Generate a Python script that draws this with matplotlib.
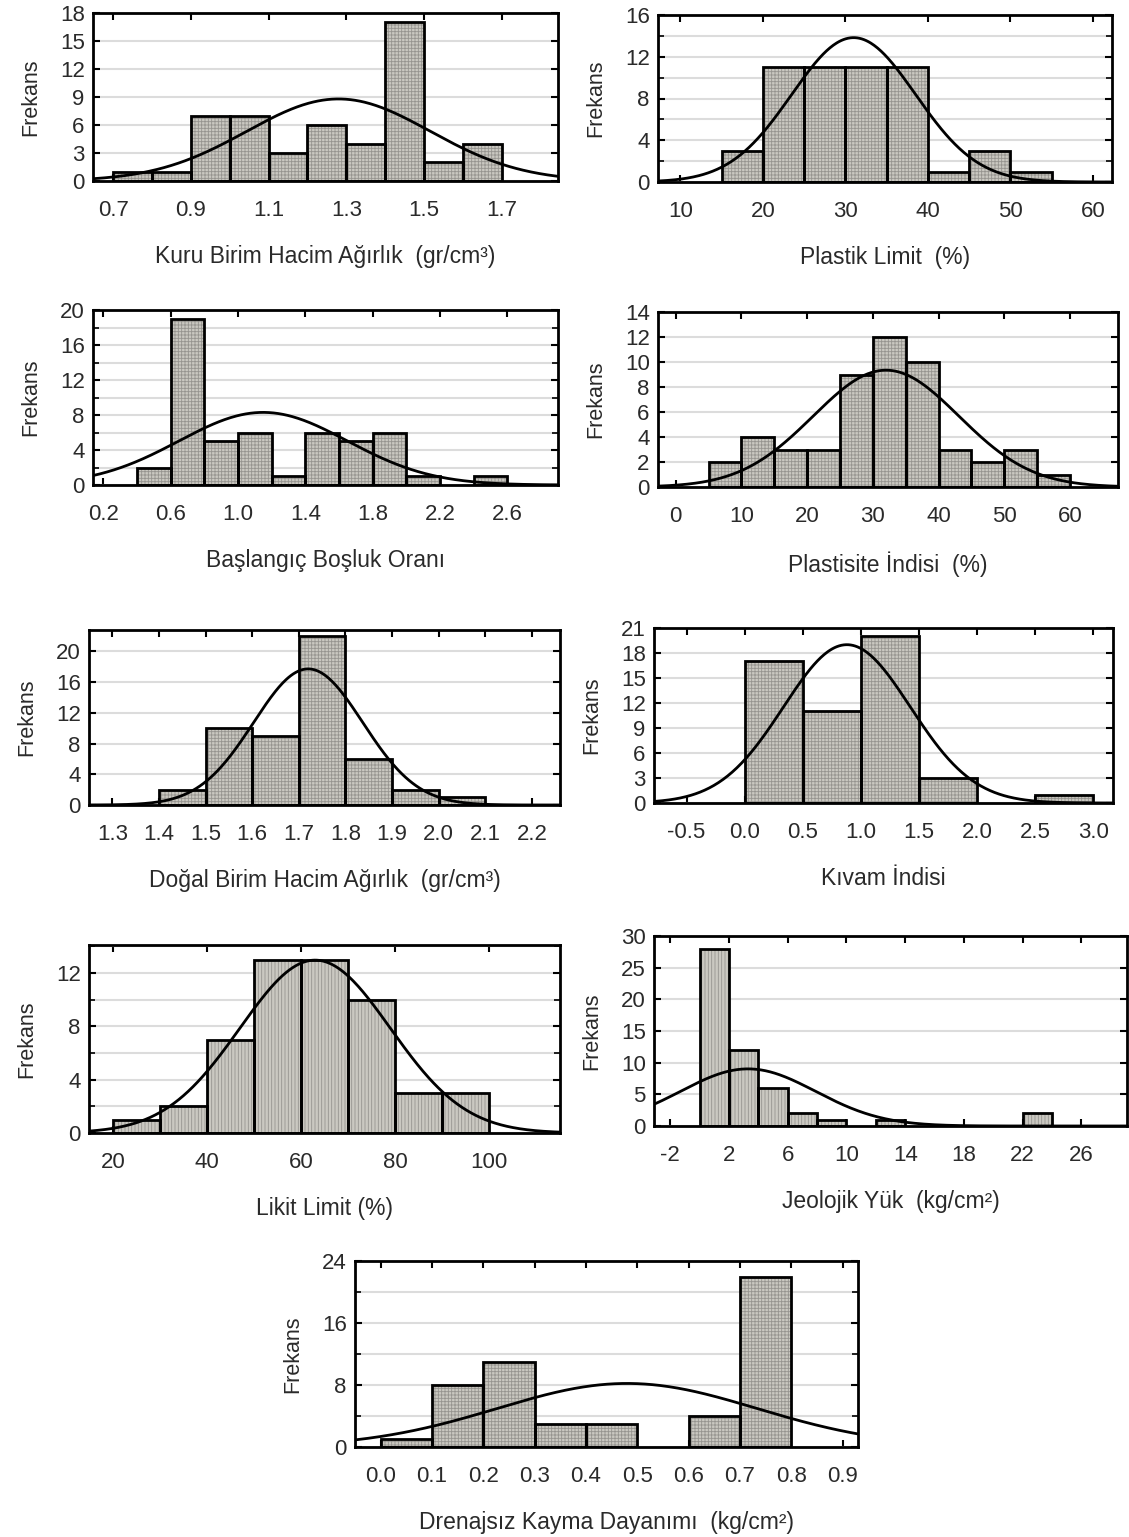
import numpy as np
import matplotlib
matplotlib.use("Agg")
import matplotlib.pyplot as plt
from matplotlib.ticker import MultipleLocator, FormatStrFormatter

plt.rcParams['font.family'] = ['Liberation Sans', 'DejaVu Sans']
plt.rcParams['hatch.linewidth'] = 0.6
plt.rcParams['axes.unicode_minus'] = False

# veriler: her panel için sınıf başlangıcı, sınıf genişliği, frekanslar
kuru_start, kuru_w = 0.7, 0.1
kuru_counts = [1, 1, 7, 7, 3, 6, 4, 17, 2, 4]
plastik_start, plastik_w = 15, 5
plastik_counts = [3, 11, 11, 11, 11, 1, 3, 1]
bosluk_start, bosluk_w = 0.4, 0.2
bosluk_counts = [2, 19, 5, 6, 1, 6, 5, 6, 1, 0, 1]
pi_start, pi_w = 5, 5
pi_counts = [2, 4, 3, 3, 9, 12, 10, 3, 2, 3, 1]
dogal_start, dogal_w = 1.4, 0.1
dogal_counts = [2, 10, 9, 22, 6, 2, 1]
kivam_start, kivam_w = 0.0, 0.5
kivam_counts = [17, 11, 20, 3, 0, 1]
likit_start, likit_w = 20, 10
likit_counts = [1, 2, 7, 13, 13, 10, 3, 3]
jeo_start, jeo_w = 0, 2
jeo_counts = [28, 12, 6, 2, 1, 0, 1, 0, 0, 0, 0, 2]
dren_start, dren_w = 0.0, 0.1
dren_counts = [1, 8, 11, 3, 3, 0, 4, 22]

# normal eğri parametreleri (ortalama, std)
kuru_fit = (1.28, 0.236)
plastik_fit = (31.0, 7.5)
bosluk_fit = (1.15, 0.50)
pi_fit = (32.0, 11.1)
dogal_fit = (1.72, 0.117)
kivam_fit = (0.88, 0.546)
likit_fit = (63.0, 16.0)
jeo_fit = (3.3, 4.6)
dren_fit = (0.48, 0.253)

# x etiketleri
kuru_label = "Kuru Birim Hacim Ağırlık  (gr/cm³)"
plastik_label = "Plastik Limit  (%)"
bosluk_label = "Başlangıç Boşluk Oranı"
pi_label = "Plastisite İndisi  (%)"
dogal_label = "Doğal Birim Hacim Ağırlık  (gr/cm³)"
kivam_label = "Kıvam İndisi"
likit_label = "Likit Limit (%)"
jeo_label = "Jeolojik Yük  (kg/cm²)"
dren_label = "Drenajsız Kayma Dayanımı  (kg/cm²)"

W, H = 1129, 1537
fig = plt.figure(figsize=(W / 100, H / 100), dpi=100)
txt = '#2a2a2a'


def panel(box, start, w, counts, fit, label, xlim, xt, ylim, yt, grid_step,
          fmt=None, hatch='+++++'):
    l, t, r, b = box
    ax = fig.add_axes([l / W, 1 - b / H, (r - l) / W, (b - t) / H])
    counts = np.array(counts)
    lefts = start + w * np.arange(len(counts))
    ax.bar(lefts, counts, width=w, align='edge', color='#cac8c1',
           edgecolor='#96948f', hatch=hatch, linewidth=0, zorder=2)
    ax.bar(lefts[counts > 0], counts[counts > 0], width=w, align='edge',
           fill=False, edgecolor='black', linewidth=2, zorder=3)
    m, s = fit
    x = np.linspace(xlim[0], xlim[1], 400)
    y = counts.sum() * w / (s * np.sqrt(2 * np.pi)) * np.exp(-0.5 * ((x - m) / s) ** 2)
    ax.plot(x, y, color='black', lw=2, zorder=4)
    ax.set_xlim(*xlim)
    ax.set_ylim(*ylim)
    ax.set_xticks(np.arange(xt[0], xt[1] + xt[2] / 2, xt[2]))
    ax.set_yticks(np.arange(yt[0], yt[1] + yt[2] / 2, yt[2]))
    ax.yaxis.set_minor_locator(MultipleLocator(grid_step))
    if fmt:
        ax.xaxis.set_major_formatter(FormatStrFormatter(fmt))
    ax.grid(axis='y', which='both', color='#dcdcdc', lw=1.5, zorder=0)
    ax.set_axisbelow(True)
    for sp in ax.spines.values():
        sp.set_linewidth(2)
    ax.tick_params(direction='in', top=True, right=True, length=5, width=1.5,
                   labelsize=16, colors='black', labelcolor=txt)
    ax.tick_params(axis='x', pad=14)
    ax.tick_params(axis='y', pad=6)
    ax.tick_params(which='minor', direction='in', left=True, right=True,
                   length=4, width=1.2)
    ax.set_xlabel(label, fontsize=16.5, labelpad=17, color=txt)
    ax.set_ylabel("Frekans", fontsize=15.5, labelpad=13, color=txt)
    return ax


panel((93, 13, 558, 181), kuru_start, kuru_w, kuru_counts, kuru_fit, kuru_label,
      (0.648, 1.845), (0.7, 1.7, 0.2), (0, 18), (0, 18, 3), 3, '%.1f')
panel((658, 15, 1112, 182), plastik_start, plastik_w, plastik_counts, plastik_fit,
      plastik_label, (7.3, 62.3), (10, 60, 10), (0, 16), (0, 16, 4), 2)
panel((93, 310, 558, 485), bosluk_start, bosluk_w, bosluk_counts, bosluk_fit,
      bosluk_label, (0.14, 2.9), (0.2, 2.6, 0.4), (0, 20), (0, 20, 4), 2, '%.1f')
panel((658, 312, 1118, 487), pi_start, pi_w, pi_counts, pi_fit, pi_label,
      (-2.7, 67.3), (0, 60, 10), (0, 14), (0, 14, 2), 2)
panel((89, 630, 560, 805), dogal_start, dogal_w, dogal_counts, dogal_fit,
      dogal_label, (1.25, 2.26), (1.3, 2.2, 0.1), (0, 22.8), (0, 20, 4), 4, '%.1f')
panel((654, 628, 1113, 803), kivam_start, kivam_w, kivam_counts, kivam_fit,
      kivam_label, (-0.78, 3.17), (-0.5, 3.0, 0.5), (0, 21), (0, 21, 3), 3, '%.1f')
panel((89, 945, 560, 1133), likit_start, likit_w, likit_counts, likit_fit,
      likit_label, (14.9, 115.1), (20, 100, 20), (0, 14.1), (0, 12, 4), 2,
      hatch='|||||')
panel((654, 936, 1127, 1126), jeo_start, jeo_w, jeo_counts, jeo_fit, jeo_label,
      (-3.1, 29.1), (-2, 26, 4), (0, 30), (0, 30, 5), 5, hatch='|||||')
panel((355, 1261, 858, 1447), dren_start, dren_w, dren_counts, dren_fit,
      dren_label, (-0.05, 0.93), (0.0, 0.9, 0.1), (0, 24), (0, 24, 8), 4, '%.1f')

fig.savefig("out.png", dpi=100, facecolor='white')
